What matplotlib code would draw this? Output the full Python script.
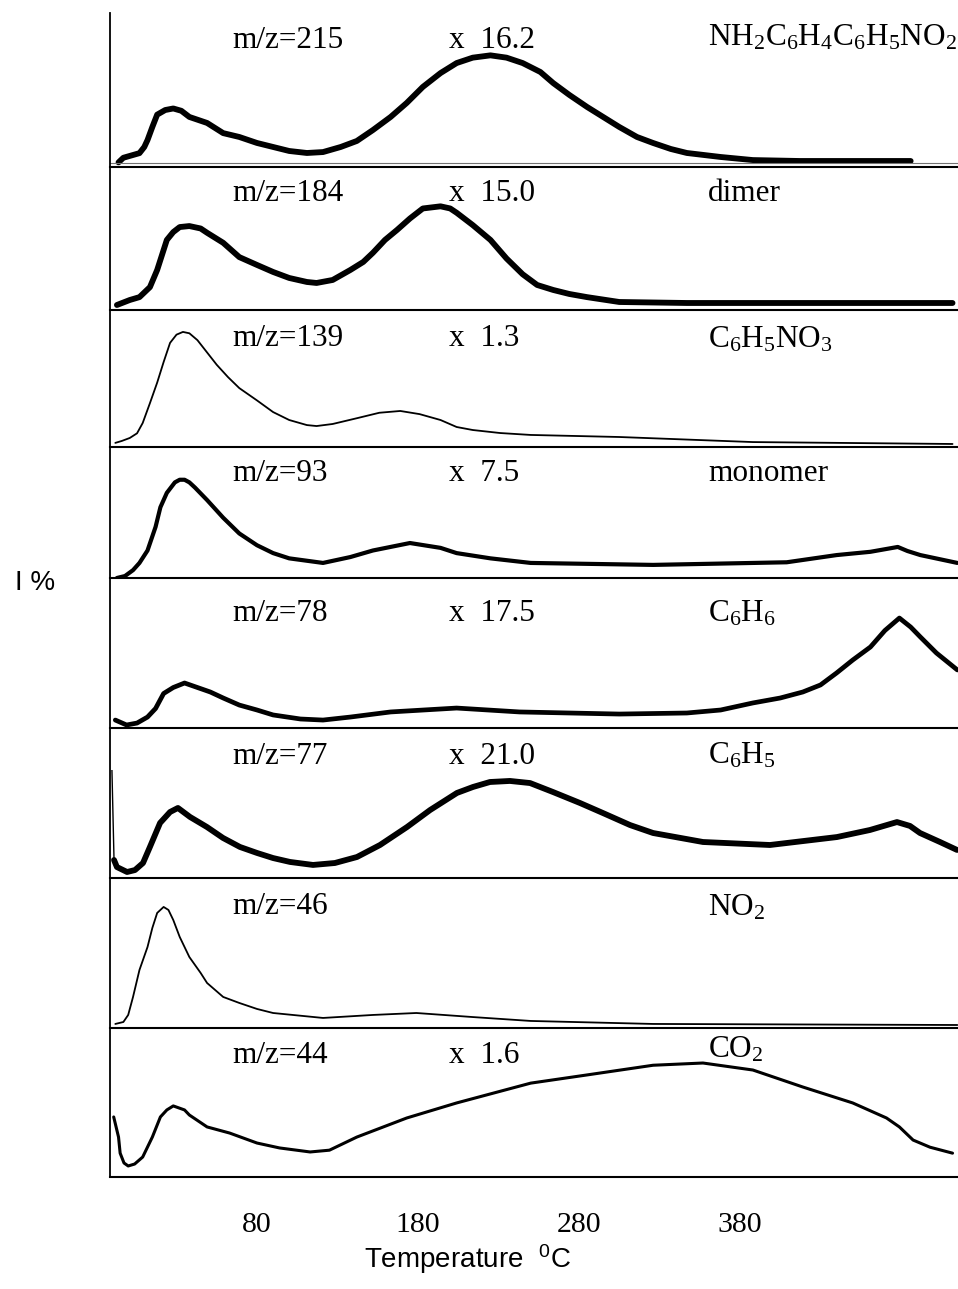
import numpy as np
import matplotlib
matplotlib.use("Agg")
import matplotlib.pyplot as plt

plt.rcParams['font.family'] = ['Liberation Serif', 'DejaVu Serif']

# ---- TPD mass spectra, relative intensity (% of panel height) vs temperature (C) ----
temp_215 = [-6, -3, 7, 10, 12, 15, 18, 23, 28, 33, 38, 49, 59, 69, 80, 90, 100, 111, 121,
            132, 142, 152, 163, 173, 183, 194, 204, 214, 225, 235, 245, 256, 264, 274,
            285, 295, 305, 316, 326, 337, 347, 368, 388, 417, 486]
int_215 = [3, 6, 9, 13, 17.5, 26, 34, 37, 38, 36.5, 32.5, 28.6, 22, 19.5, 15.6, 13, 10.4,
           9.1, 9.7, 13, 16.9, 24, 32.5, 41.6, 52, 61, 67.5, 71, 72.5, 71, 67.5, 61.7,
           54.5, 46.8, 39, 32.5, 26, 19.5, 15.6, 11.7, 9.1, 6.5, 4.5, 3.9, 3.9]

temp_184 = [-7, 1, 7, 13.5, 18, 22, 24, 28, 32, 38, 45, 49, 59, 69, 80, 90, 100, 111, 117,
            127, 138, 146, 152, 159.5, 167, 175, 183, 194, 200, 204, 214, 225, 235, 245,
            254, 264, 274, 285, 305, 347, 512]
int_184 = [3.5, 7, 9, 16, 28, 42, 49, 54.5, 58, 58.7, 57, 54, 47, 37, 31.5, 26.6, 22.4,
           19.6, 18.9, 21, 28, 33.6, 40, 49, 56, 64, 71, 72.5, 71, 68, 59.4, 49, 36, 25,
           17.5, 14, 11.2, 9, 5.6, 4.9, 4.9]

temp_139 = [-8, -4, 1, 5.5, 9, 13.5, 18, 22, 26, 30, 34, 38, 43, 49, 55, 62, 69, 80, 90,
            100, 111, 117, 127, 142, 156, 169, 181, 194, 204, 214, 231, 250, 305, 388, 512]
int_139 = [3, 4.4, 6.6, 10, 17.5, 32, 47, 62, 76, 82, 84, 83, 78, 69, 60, 51, 43, 34, 25.5,
           19.7, 16, 15.3, 16.8, 21, 25, 26.3, 24, 19.7, 14.6, 12.4, 10.2, 8.8, 7.3, 3.6,
           2.2]

temp_93 = [-7, -2, 3, 7, 12, 17, 20, 24, 29, 32, 35, 38, 41.5, 49, 59, 69, 80, 90, 100,
           121, 138, 152, 175, 194, 204, 225, 250, 326, 409, 440, 461, 478, 484, 492, 515]
int_93 = [0, 1.5, 6, 11.5, 21, 39, 54, 65, 73, 75, 75, 73, 69, 59.5, 46, 34, 25, 19, 15,
          11.5, 16, 21, 26.7, 23, 19, 15, 11.5, 10, 12, 17.5, 20, 23.7, 20.6, 17.5, 11.5]

temp_78 = [-8, -1, 5.5, 12, 17, 22, 28, 35, 43, 51, 59, 69, 80, 90, 107, 121, 138, 163,
           204, 243, 305, 347, 368, 388, 405, 419, 430, 440, 450, 461, 470, 479, 486, 492,
           502, 515]
int_78 = [5.3, 2, 3.3, 7.3, 13, 23, 27, 30, 27, 24, 20, 15.3, 12, 8.7, 6, 5.3, 7.3, 10.7,
          13.3, 10.7, 9.3, 10, 12, 16.7, 20, 24, 28.7, 36.7, 45.3, 54, 65, 73.3, 67.3,
          60.7, 50, 38.7]

temp_77 = [-10.1, -8.8, -7, -0.7, 4.2, 9.2, 13.5, 19.8, 26, 30.9, 38.4, 48.9, 58.9, 69.4,
           80, 90, 100.5, 114.8, 128.4, 142.1, 156.4, 173.2, 187.5, 204.2, 214.2, 224.7,
           237.1, 249.6, 263.9, 280.6, 294.9, 311.7, 326, 357, 398.6, 440.2, 460.7, 477.5,
           485.6, 491.8, 504.2, 514.8]
int_77 = [72, 12, 7.3, 4, 5.3, 10, 20.7, 36.7, 44, 46.7, 40.7, 34, 26.7, 20.7, 16.7, 13.3,
          10.7, 8.7, 10, 14, 22, 34, 45.3, 56.7, 60.7, 64, 64.7, 63.3, 57.3, 50, 43.3, 35.3,
          30, 24, 22, 27.3, 32, 37.3, 34.7, 30, 24, 18.7]

temp_46 = [-8, -3, 0, 3, 7, 12, 15, 18, 22, 25, 28, 32, 38, 45, 49, 59, 69, 80, 90, 121,
           152, 179, 214, 250, 326, 515]
int_46 = [2.7, 4, 8.7, 20.7, 38.7, 54, 66.7, 76.7, 80.7, 78.7, 72, 60.7, 47.3, 36.7, 30,
          20.7, 16.7, 12.7, 10, 6.7, 8.7, 10, 7.3, 4.7, 2.7, 2]

temp_44 = [-9, -6, -5, -2.6, 0, 4, 9, 15, 20, 24, 28, 35, 38, 49, 63, 80, 94, 113, 125, 142,
           173, 204, 250, 285, 326, 357, 388, 419, 450, 471, 479, 487.5, 498, 512]
int_44 = [40.3, 26.8, 16, 9.4, 7.4, 8.7, 13.4, 26.8, 40.3, 45, 47.7, 45, 41.6, 33.6, 29.5,
          22.8, 19.5, 16.8, 18, 26.8, 39.6, 49.7, 63, 68.5, 75, 76.5, 71.8, 60.4, 49.7,
          39.6, 33.6, 24.8, 20, 16]

mz_labels = ["m/z=215", "m/z=184", "m/z=139", "m/z=93", "m/z=78", "m/z=77", "m/z=46", "m/z=44"]
scale_labels = ["x  16.2", "x  15.0", "x  1.3", "x  7.5", "x  17.5", "x  21.0", "", "x  1.6"]
species = [r"$\mathregular{NH_2C_6H_4C_6H_5NO_2}$", "dimer", r"$\mathregular{C_6H_5NO_3}$",
           "monomer", r"$\mathregular{C_6H_6}$", r"$\mathregular{C_6H_5}$",
           r"$\mathregular{NO_2}$", r"$\mathregular{CO_2}$"]

tick_values = [80, 180, 280, 380]
tick_labels = ["80", "180", "280", "380"]

series = [(temp_215, int_215), (temp_184, int_184), (temp_139, int_139), (temp_93, int_93),
          (temp_78, int_78), (temp_77, int_77), (temp_46, int_46), (temp_44, int_44)]

# ---- layout (pixels of a 958 x 1289 canvas) ----
W, H = 958, 1289
fig = plt.figure(figsize=(W / 100, H / 100), dpi=100)

panel_px = [(13, 167), (167, 310), (310, 447), (447, 578),
            (578, 728), (728, 878), (878, 1028), (1028, 1177)]
line_w = [4.2, 4.2, 1.3, 3.0, 3.4, 4.2, 1.3, 2.2]
label_base = [48, 201, 346, 481, 621, 764, 914, 1063]
species_base = [45, 201, 348, 481, 622, 764, 915, 1057]
x_left, x_right = 110, 958
t_min, t_max = -11.3, 515.4


def fx(px):
    return px / W


def fy(py):
    return 1 - py / H


axes = []
for i, (top, bot) in enumerate(panel_px):
    ax = fig.add_axes([fx(x_left), fy(bot), (x_right - x_left) / W, (bot - top) / H])
    t, v = series[i]
    style = dict(color='black', solid_joinstyle='round', solid_capstyle='round')
    if i == 5:
        # sharp transient at the very start of the m/z=77 trace
        ax.plot(t[:2], v[:2], color='black', lw=1.0, solid_capstyle='butt')
        ax.plot(t[1:], v[1:], lw=line_w[i], **style)
    else:
        ax.plot(t, v, lw=line_w[i], **style)
    ax.set_xlim(t_min, t_max)
    ax.set_ylim(0, 100)
    for s in ('top', 'right'):
        ax.spines[s].set_visible(False)
    ax.spines['left'].set_linewidth(1.3)
    ax.spines['bottom'].set_linewidth(1.5)
    ax.set_yticks([])
    ax.set_xticks([])
    ax.patch.set_alpha(0)
    axes.append(ax)

    fig.text(fx(232), fy(label_base[i]), mz_labels[i], fontsize=22.5, va='baseline', ha='left')
    if scale_labels[i]:
        fig.text(fx(449), fy(label_base[i]), scale_labels[i], fontsize=22.5,
                 va='baseline', ha='left')
    fig.text(fx(708), fy(species_base[i]), species[i], fontsize=22.5,
             va='baseline', ha='left')

# thin baseline under the top trace
axes[0].axhline(2.8, color='0.45', lw=0.8)

bottom = axes[-1]
bottom.set_xticks(tick_values)
bottom.set_xticklabels(tick_labels, fontsize=21.5)
bottom.tick_params(axis='x', length=0, pad=25)

fig.text(fx(467), fy(1268), r"Temperature  $\mathregular{^0}$C", fontsize=20,
         family='Liberation Sans', ha='center', va='baseline')
fig.text(fx(15), fy(590), "I %", fontsize=20, family='Liberation Sans',
         ha='left', va='baseline')

fig.savefig("out.png", dpi=100)
